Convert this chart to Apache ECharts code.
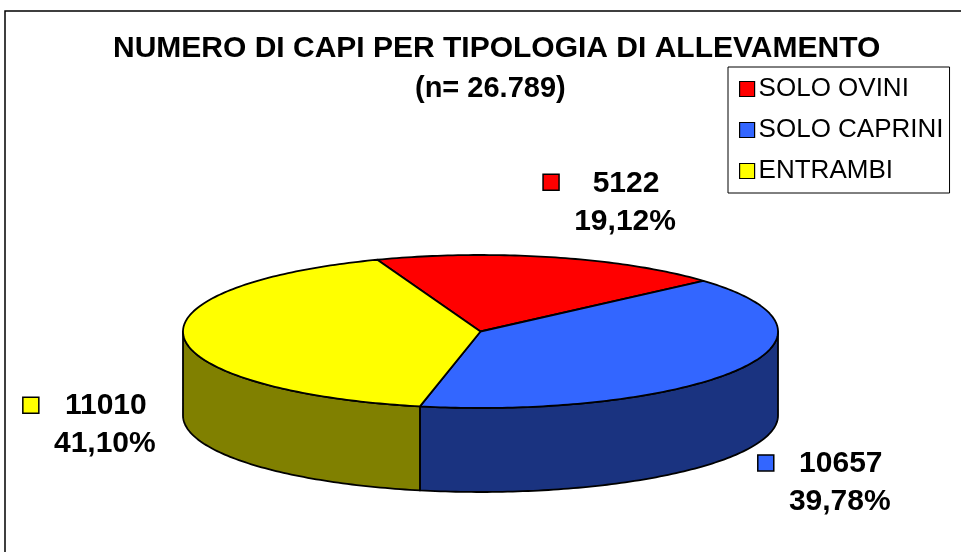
<!DOCTYPE html>
<html lang="it">
<head>
<meta charset="UTF-8"/>
<title>Numero di capi per tipologia di allevamento</title>
<script src="https://cdn.jsdelivr.net/npm/echarts@6/dist/echarts.min.js"></script>
<style>
  html, body { margin: 0; padding: 0; background: #fff; }
  #main { width: 961px; height: 552px; }
</style>
</head>
<body>
<div id="main"></div>
<script>
// dati
var categories = ['SOLO OVINI', 'SOLO CAPRINI', 'ENTRAMBI'];
var values = [5122, 10657, 11010];
var colors = ['#FF0000', '#3366FF', '#FFFF00'];
var sideColors = ['#800000', '#1A3380', '#808000'];

var total = values.reduce(function (a, b) { return a + b; }, 0);

// geometria della torta 3D (ellisse + spessore)
var CX = 480.5, CY = 331.5, RX = 297.5, RY = 76.5, DEPTH = 84;
var START = -110.3 * Math.PI / 180;
// posizione delle etichette rispetto al punto medio dello spicchio
var labelNudge = [[57, -53], [87, 115], [-94, 90]];

var font = 'Liberation Sans, Arial, sans-serif';

function sliceAngles(i) {
    var a = START;
    for (var k = 0; k < i; k++) a += values[k] / total * Math.PI * 2;
    return [a, a + values[i] / total * Math.PI * 2];
}

function pt(a, dy) {
    return [CX + RX * Math.cos(a), CY + RY * Math.sin(a) + (dy || 0)];
}

function arc(a0, a1, dy) {
    var pts = [];
    var n = Math.max(2, Math.ceil(Math.abs(a1 - a0) / (Math.PI / 180)));
    for (var j = 0; j <= n; j++) pts.push(pt(a0 + (a1 - a0) * j / n, dy));
    return pts;
}

function fmtPct(v) {
    return (v / total * 100).toFixed(2).replace('.', ',') + '%';
}

function renderSlice(params, api) {
    var i = params.seriesIndex;
    var ang = sliceAngles(i);
    var a0 = ang[0], a1 = ang[1];
    var children = [];

    // parete laterale: solo la metà anteriore (0..PI)
    for (var k = -1; k <= 1; k++) {
        var s = Math.max(a0, k * 2 * Math.PI);
        var e = Math.min(a1, k * 2 * Math.PI + Math.PI);
        if (e > s) {
            var pts = arc(s, e, 0).concat(arc(e, s, DEPTH));
            children.push({
                type: 'polygon',
                z2: 1,
                shape: { points: pts },
                style: { fill: sideColors[i], stroke: '#000', lineWidth: 1.8, lineJoin: 'round' }
            });
        }
    }

    // faccia superiore
    children.push({
        type: 'polygon',
        z2: 5,
        shape: { points: [[CX, CY]].concat(arc(a0, a1, 0)) },
        style: { fill: api.visual('color'), stroke: '#000', lineWidth: 1.8, lineJoin: 'round' }
    });

    // etichetta: chiave + valore + percentuale
    var mid = (a0 + a1) / 2;
    var anchor = pt(mid, 0);
    var lx = anchor[0] + labelNudge[i][0];
    var ly = anchor[1] + labelNudge[i][1];
    children.push({
        type: 'rect',
        z2: 10,
        shape: { x: lx - 67, y: ly - 30, width: 16, height: 16 },
        style: { fill: api.visual('color'), stroke: '#000', lineWidth: 1.5 }
    });
    children.push({
        type: 'text',
        z2: 10,
        x: lx + 16, y: ly - 21,
        style: {
            text: String(api.value(0)),
            fontFamily: font, fontSize: 30, fontWeight: 'bold',
            fill: '#000', align: 'center', verticalAlign: 'middle'
        }
    });
    children.push({
        type: 'text',
        z2: 10,
        x: lx + 15, y: ly + 17,
        style: {
            text: fmtPct(api.value(0)),
            fontFamily: font, fontSize: 30, fontWeight: 'bold',
            fill: '#000', align: 'center', verticalAlign: 'middle'
        }
    });

    return { type: 'group', children: children };
}

var myChart = echarts.init(document.getElementById('main'), null, { renderer: 'canvas' });

var option = {
    backgroundColor: '#fff',
    animation: false,
    title: [{
        text: 'NUMERO DI CAPI PER TIPOLOGIA DI ALLEVAMENTO',
        left: 113, top: 34, padding: 0,
        textStyle: { fontFamily: font, fontSize: 30, fontWeight: 'bold', color: '#000' }
    }, {
        text: '(n= ' + total.toLocaleString('it-IT') + ')',
        left: 415, top: 74, padding: 0,
        textStyle: { fontFamily: font, fontSize: 29, fontWeight: 'bold', color: '#000' }
    }],
    legend: {
        orient: 'vertical',
        left: 728, top: 67,
        padding: [9, 6, 9, 11],
        itemGap: 15,
        itemWidth: 15, itemHeight: 15,
        icon: 'rect',
        backgroundColor: '#fff',
        borderColor: '#000', borderWidth: 1,
        borderRadius: 0,
        selectedMode: false,
        itemStyle: { borderColor: '#000', borderWidth: 1.2 },
        textStyle: { fontFamily: font, fontSize: 26, color: '#000', padding: [0, 0, 0, -1] },
        data: categories
    },
    graphic: [{
        type: 'rect',
        z: -1,
        shape: { x: 5, y: 11, width: 1000, height: 600 },
        style: { fill: 'none', stroke: '#000', lineWidth: 1.5 }
    }],
    series: categories.map(function (name, i) {
        return {
            type: 'custom',
            name: name,
            coordinateSystem: 'none',
            itemStyle: { color: colors[i] },
            data: [values[i]],
            renderItem: renderSlice
        };
    })
};

myChart.setOption(option);
</script>
</body>
</html>
